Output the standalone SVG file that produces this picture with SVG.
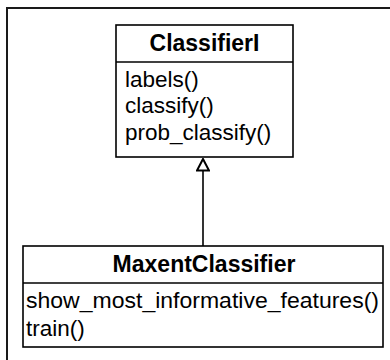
<svg xmlns="http://www.w3.org/2000/svg" width="390" height="360" viewBox="0 0 390 360">
  <style>
    .box { fill: #ffffff; stroke: #000000; stroke-width: 1.6; }
    .div { stroke: #000000; stroke-width: 1.6; }
    .title { font-family: "Liberation Sans", Arial, sans-serif; font-size: 23px; font-weight: bold; fill: #000000; text-anchor: middle; }
    .member { font-family: "Liberation Sans", Arial, sans-serif; font-size: 22.5px; fill: #000000; }
    .conn { stroke: #000000; stroke-width: 1.6; fill: none; }
  </style>
  <defs>
    <marker id="inherit" markerUnits="userSpaceOnUse" markerWidth="14" markerHeight="14" refX="12.5" refY="7" orient="auto" viewBox="0 0 14 14">
      <path d="M12.5,7 L1,1 L1,13 Z" fill="#ffffff" stroke="#000000" stroke-width="2"/>
    </marker>
  </defs>
  <rect x="0" y="0" width="390" height="360" fill="#ffffff"/>
  <rect id="frame" x="7" y="8" width="420" height="420" fill="none" stroke="#1a1a1a" stroke-width="2"/>

  <g id="connectors">
    <line class="conn" x1="203" y1="246" x2="203" y2="159" marker-end="url(#inherit)"/>
  </g>

  <g id="ClassifierI">
    <rect class="box" x="116" y="25" width="177" height="132"/>
    <line class="div" x1="116" y1="62" x2="293" y2="62"/>
    <text class="title" x="204.5" y="51">ClassifierI</text>
    <text class="member" x="125" y="87">labels()</text>
    <text class="member" x="125" y="113">classify()</text>
    <text class="member" x="125" y="140">prob_classify()</text>
  </g>

  <g id="MaxentClassifier">
    <rect class="box" x="23" y="246" width="360" height="101"/>
    <line class="div" x1="23" y1="283" x2="383" y2="283"/>
    <text class="title" x="204" y="272">MaxentClassifier</text>
    <text class="member" x="26" y="308" textLength="353" lengthAdjust="spacingAndGlyphs">show_most_informative_features()</text>
    <text class="member" x="26" y="336">train()</text>
  </g>
</svg>
